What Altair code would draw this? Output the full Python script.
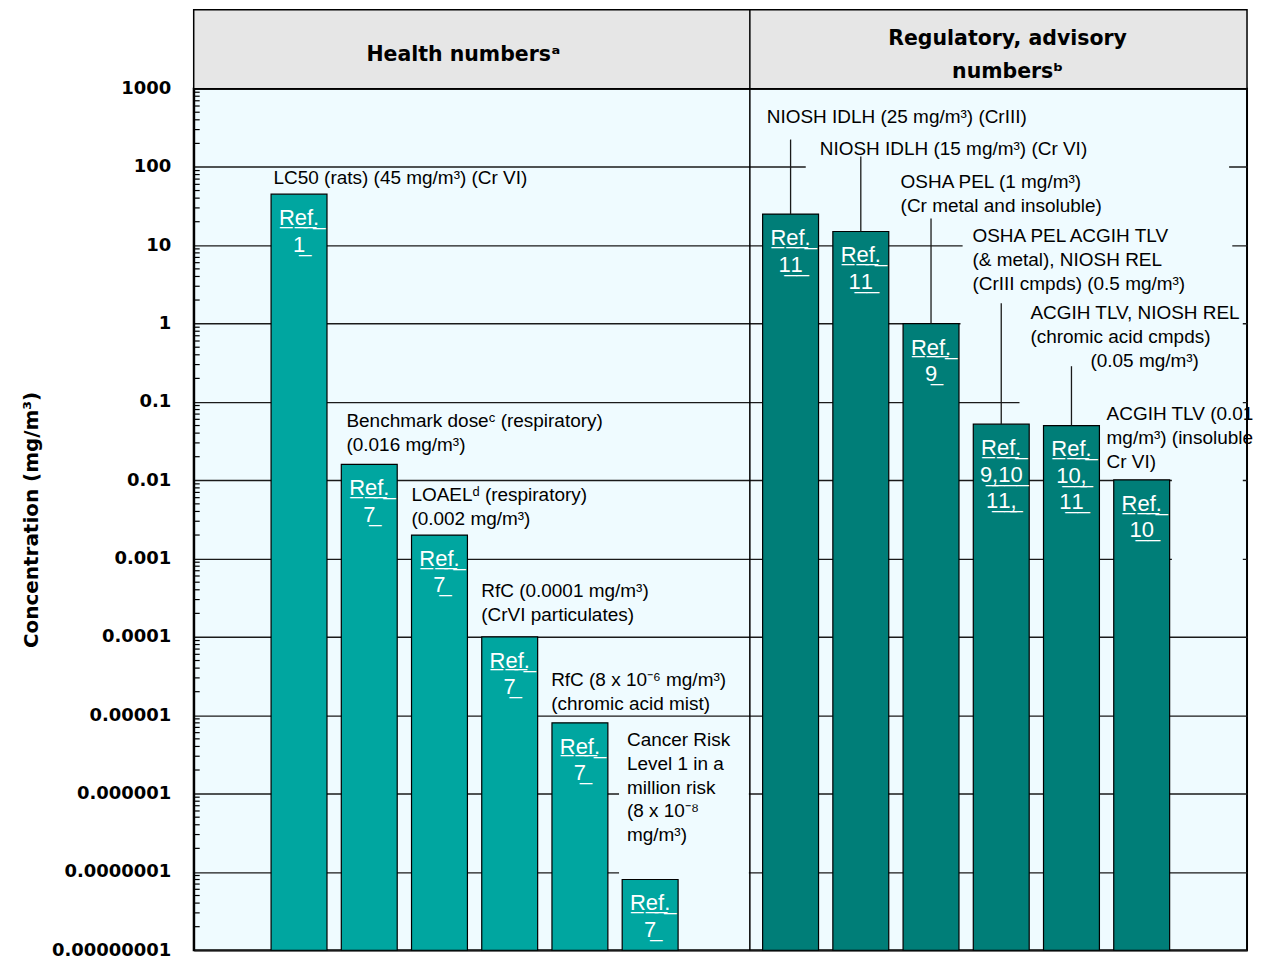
import altair as alt
import pandas as pd

# ---------------- data ----------------
positions = [1, 2, 3, 4, 5, 6, 8, 9, 10, 11, 12, 13]
values = [45, 0.016, 0.002, 0.0001, 8e-6, 8e-8, 25, 15, 1, 0.052, 0.05, 0.0101]
groups = ["Health"] * 6 + ["Regulatory"] * 6
refs = ["Ref.\n1", "Ref.\n7", "Ref.\n7", "Ref.\n7", "Ref.\n7", "Ref.\n7",
        "Ref.\n11", "Ref.\n11", "Ref.\n9", "Ref.\n9,10\n11,", "Ref.\n10,\n11", "Ref.\n10"]

lead_pos = [8, 9, 10, 11, 12]
lead_base = [25, 15, 1, 0.052, 0.05]
lead_top = [224, 136, 22, 1.82, 0.286]

ann_x = [0.637, 1.675, 2.60, 3.595, 4.59, 5.67, 7.66, 8.415, 9.567, 10.59, 11.415, 12.27, 12.50]
ann_y = [92.8, 0.0741, 0.00845, 5.05e-4, 3.70e-5, 6.37e-6, 573, 224, 82.5, 16.9, 1.77, 0.431, 0.091]
ann_text = [
    "LC50 (rats) (45 mg/m³) (Cr VI)",
    "Benchmark doseᶜ (respiratory)\n(0.016 mg/m³)",
    "LOAELᵈ (respiratory)\n(0.002 mg/m³)",
    "RfC (0.0001 mg/m³)\n(CrVI  particulates)",
    "RfC (8 x 10⁻⁶ mg/m³)\n(chromic acid mist)",
    "Cancer Risk\nLevel 1 in a\nmillion risk\n(8 x 10⁻⁸\nmg/m³)",
    "NIOSH IDLH (25 mg/m³) (CrIII)",
    "NIOSH IDLH (15 mg/m³) (Cr VI)",
    "OSHA PEL (1 mg/m³)\n(Cr metal and insoluble)",
    "OSHA PEL ACGIH TLV\n(& metal), NIOSH REL\n(CrIII cmpds) (0.5 mg/m³)",
    "ACGIH TLV, NIOSH REL\n(chromic acid cmpds)",
    "(0.05 mg/m³)",
    "ACGIH TLV (0.01\nmg/m³) (insoluble\nCr VI)",
]

# label backgrounds that hide the grid behind the annotation blocks
mask_x1 = [8.216, 10.45, 10.42, 11.26, 13.43, 5.557]
mask_x2 = [14.245, 14.29, 14.44, 14.44, 14.44, 7.406]
mask_y1 = [124, 11.9, 1.2, 0.12, 0.012, 7.2e-6]
mask_y2 = [82, 7.9, 0.8, 0.08, 0.0008, 9e-8]

header_names = ["Health numbersᵃ", "Regulatory, advisory\nnumbersᵇ"]
header_cx = [3.34, 11.09]
header_start = [-0.5]
header_end = [14.5]
divider_x = [7.42]

major_ticks = [1e-8, 1e-7, 1e-6, 1e-5, 1e-4, 1e-3, 1e-2, 1e-1, 1, 10, 100, 1000]
minor_ticks = [m * 10.0 ** k for k in range(-8, 3) for m in range(2, 10)]

# ---------------- styling ----------------
HEALTH = "#00A6A0"
REG = "#007E78"
BG = "#EFFBFF"
ANN_FONT = "Liberation Sans"
BOLD_FONT = "DejaVu Sans"


def underline(s):
    return "".join(c if c == "\n" else c + "\u0332" for c in s)


bars = pd.DataFrame({"pos": positions, "value": values, "group": groups,
                     "ref": [underline(r) for r in refs]})
leads = pd.DataFrame({"pos": lead_pos, "base": lead_base, "top": lead_top})
anns = pd.DataFrame({"x": ann_x, "y": ann_y, "text": ann_text})
masks = pd.DataFrame({"x1": mask_x1, "x2": mask_x2, "y1": mask_y1, "y2": mask_y2})
header = pd.DataFrame({"name": header_names, "cx": header_cx})
hbox = pd.DataFrame({"s": header_start, "e": header_end})
divider = pd.DataFrame({"x": divider_x})
minor = pd.DataFrame({"v": minor_ticks})

xscale = alt.Scale(domain=[-0.5, 14.5], nice=False, zero=False, padding=0)
yscale = alt.Scale(type="log", domain=[1e-8, 1000], nice=False, padding=0)

yaxis = alt.Axis(
    values=major_ticks, format=".8~f", ticks=False,
    labelFont=BOLD_FONT, labelFontWeight="bold", labelFontSize=18, labelColor="black",
    labelPadding=23, labelFlush=False, labelOverlap=False,
    domain=True, domainColor="black", domainWidth=2,
    grid=True, gridColor="#1a1a1a", gridWidth=1.3, gridOpacity=1,
    title="Concentration (mg/m³)", titleFont=BOLD_FONT, titleFontWeight="bold",
    titleFontSize=20, titleColor="black", titlePadding=10,
)


def Y(field):
    return alt.Y(field, scale=yscale, axis=yaxis)


def X(field):
    return alt.X(field, scale=xscale, axis=None)


mask_layer = alt.Chart(masks).mark_rect(fill=BG, stroke=None).encode(
    x=X("x1:Q"), x2="x2:Q", y=Y("y1:Q"), y2="y2:Q",
)

bar_layer = alt.Chart(bars).mark_bar(size=56, stroke="black", strokeWidth=1.2).encode(
    x=X("pos:Q"),
    y=Y("value:Q"),
    y2=alt.datum(1e-8),
    color=alt.Color("group:N", scale=alt.Scale(domain=["Health", "Regulatory"], range=[HEALTH, REG]),
                    legend=None),
)

lead_layer = alt.Chart(leads).mark_rule(color="#1a1a1a", strokeWidth=1.3).encode(
    x=X("pos:Q"), y=Y("base:Q"), y2="top:Q",
)

ref_layer = alt.Chart(bars).mark_text(
    font=ANN_FONT, fontSize=22, color="white", align="center", baseline="top",
    dy=14, lineBreak="\n", lineHeight=26.5,
).encode(x=X("pos:Q"), y=Y("value:Q"), text="ref:N")

ann_layer = alt.Chart(anns).mark_text(
    font=ANN_FONT, fontSize=19, color="black", align="left", baseline="top",
    lineBreak="\n", lineHeight=24,
).encode(x=X("x:Q"), y=Y("y:Q"), text="text:N")

hbox_layer = alt.Chart(hbox).mark_rect(fill="#E6E6E6", stroke="black", strokeWidth=1.5).encode(
    x=X("s:Q"), x2="e:Q", y=alt.value(-79), y2=alt.value(0),
)

htext_style = dict(font=BOLD_FONT, fontWeight="bold", fontSize=20.5, color="black",
                   align="center", baseline="middle", lineBreak="\n", lineHeight=33)

htext_health = alt.Chart(header).transform_filter(
    alt.datum.cx < 7
).mark_text(**htext_style).encode(x=X("cx:Q"), y=alt.value(-34), text="name:N")

htext_reg = alt.Chart(header).transform_filter(
    alt.datum.cx > 7
).mark_text(**htext_style).encode(x=X("cx:Q"), y=alt.value(-50), text="name:N")

div_layer = alt.Chart(divider).mark_rule(color="black", strokeWidth=1.5).encode(
    x=X("x:Q"), y=alt.value(-79), y2=alt.value(863),
)

minor_layer = alt.Chart(minor).mark_rule(color="black", strokeWidth=1.2).encode(
    y=Y("v:Q"), x=alt.value(0), x2=alt.value(6),
)

chart = alt.layer(
    mask_layer, bar_layer, lead_layer, ref_layer, ann_layer,
    hbox_layer, htext_health, htext_reg, div_layer, minor_layer,
).properties(
    width=1055, height=863,
    padding={"left": 13, "top": 0, "right": 5, "bottom": 5},
    background="white",
).configure_view(
    stroke="black", strokeWidth=2, fill=BG,
)

chart.save("out.html", embed_options={"renderer": "svg", "actions": False})
